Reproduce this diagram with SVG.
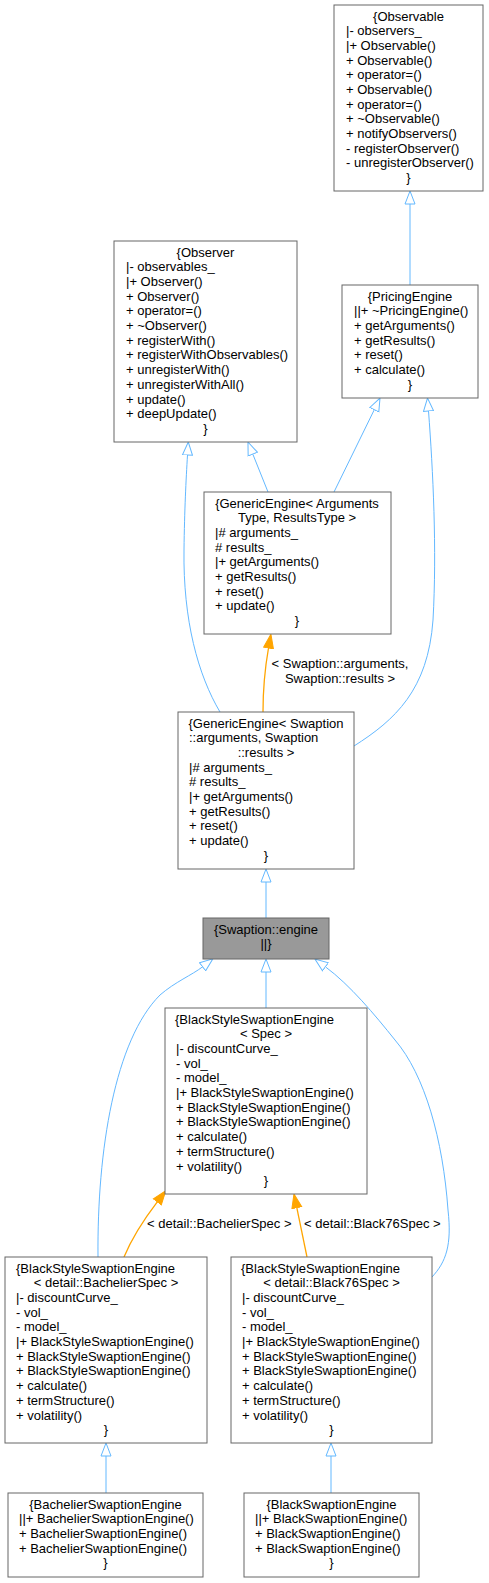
<svg xmlns="http://www.w3.org/2000/svg" width="489" height="1583" viewBox="0 0 489 1583">
<style>
text{font-family:"Liberation Sans",Arial,sans-serif;font-size:13px;fill:#000}
.c{text-anchor:middle}
.box{fill:#fff;stroke:#666;stroke-width:1}
.sel{fill:#999;stroke:#666;stroke-width:1}
.e{fill:none;stroke:#63B8FF;stroke-width:1}
.o{fill:none;stroke:#FFA500;stroke-width:1.3}
</style>
<defs>
<marker id="ah" viewBox="0 0 14 12" markerWidth="14" markerHeight="12" refX="0.5" refY="6" orient="auto" markerUnits="userSpaceOnUse"><path d="M0.5,1 L13.5,6 L0.5,11 z" fill="#fff" stroke="#63B8FF" stroke-width="1"/></marker>
<marker id="ao" viewBox="0 0 15 12" markerWidth="15" markerHeight="12" refX="0.5" refY="6" orient="auto" markerUnits="userSpaceOnUse"><path d="M0.5,1 L14.5,6 L0.5,11 z" fill="#FFA500" stroke="#FFA500" stroke-width="1"/></marker>
</defs>

<g id="connectors">
<path class="e" d="M410,285 L410,204" marker-end="url(#ah)"/>
<path class="e" d="M268,492 L252.8,454.1" marker-end="url(#ah)"/>
<path class="e" d="M334,492 L374.3,409.7" marker-end="url(#ah)"/>
<path class="e" d="M220,712 C198,675 183,620 184,550 C184.5,510 186,480 187.5,455" marker-end="url(#ah)"/>
<path class="e" d="M354,746 C395,720 428,690 433,620 C437,550 433,470 428.5,411" marker-end="url(#ah)"/>
<path class="o" d="M263,712 C263,690 265,668 268.5,648" marker-end="url(#ao)"/>
<path class="e" d="M266,918 L266,882" marker-end="url(#ah)"/>
<path class="e" d="M266,1008 L266,972" marker-end="url(#ah)"/>
<path class="e" d="M98,1257 C97,1150 115,1040 160,995 C175,982 192,975 202.6,966.8" marker-end="url(#ah)"/>
<path class="e" d="M432,1277 C446,1262 452,1245 448,1210 C443,1140 425,1075 395,1040 C375,1015 350,985 325.4,966.8" marker-end="url(#ah)"/>
<path class="o" d="M124,1257 C132,1238 145,1218 157.3,1201.9" marker-end="url(#ao)"/>
<path class="o" d="M307,1257 L296.8,1207.7" marker-end="url(#ao)"/>
<path class="e" d="M106,1493 L106,1456" marker-end="url(#ah)"/>
<path class="e" d="M331,1493 L331,1456" marker-end="url(#ah)"/>
<text class="c" x="340" y="668">&lt; Swaption::arguments,</text>
<text class="c" x="340" y="683">Swaption::results &gt;</text>
<text x="147" y="1228">&lt; detail::BachelierSpec &gt;</text>
<text x="304" y="1228">&lt; detail::Black76Spec &gt;</text>
</g>

<g id="Observable">
<rect class="box" x="334" y="5" width="149" height="186"/>
<text class="c" x="408.5" y="20.5">{Observable</text>
<text x="346" y="35.2">|- observers_<tspan x="346" dy="14.7">|+ Observable()</tspan><tspan x="346" dy="14.7">+ Observable()</tspan><tspan x="346" dy="14.7">+ operator=()</tspan><tspan x="346" dy="14.7">+ Observable()</tspan><tspan x="346" dy="14.7">+ operator=()</tspan><tspan x="346" dy="14.7">+ ~Observable()</tspan><tspan x="346" dy="14.7">+ notifyObservers()</tspan><tspan x="346" dy="14.7">- registerObserver()</tspan><tspan x="346" dy="14.7">- unregisterObserver()</tspan></text>
<text class="c" x="408.5" y="182.2">}</text>
</g>

<g id="Observer">
<rect class="box" x="114" y="241" width="183" height="201"/>
<text class="c" x="205.5" y="256.5">{Observer</text>
<text x="126" y="271.2">|- observables_<tspan x="126" dy="14.7">|+ Observer()</tspan><tspan x="126" dy="14.7">+ Observer()</tspan><tspan x="126" dy="14.7">+ operator=()</tspan><tspan x="126" dy="14.7">+ ~Observer()</tspan><tspan x="126" dy="14.7">+ registerWith()</tspan><tspan x="126" dy="14.7">+ registerWithObservables()</tspan><tspan x="126" dy="14.7">+ unregisterWith()</tspan><tspan x="126" dy="14.7">+ unregisterWithAll()</tspan><tspan x="126" dy="14.7">+ update()</tspan><tspan x="126" dy="14.7">+ deepUpdate()</tspan></text>
<text class="c" x="205.5" y="432.9">}</text>
</g>

<g id="PricingEngine">
<rect class="box" x="342" y="285" width="136" height="113"/>
<text class="c" x="410" y="300.5">{PricingEngine</text>
<text x="354" y="315.2">||+ ~PricingEngine()<tspan x="354" dy="14.7">+ getArguments()</tspan><tspan x="354" dy="14.7">+ getResults()</tspan><tspan x="354" dy="14.7">+ reset()</tspan><tspan x="354" dy="14.7">+ calculate()</tspan></text>
<text class="c" x="410" y="388.7">}</text>
</g>

<g id="GenericEngineArgs">
<rect class="box" x="204" y="492" width="187" height="142"/>
<text class="c" x="297" y="507.5">{GenericEngine&lt; Arguments</text>
<text class="c" x="297" y="522.2">Type, ResultsType &gt;</text>
<text x="215" y="536.9">|# arguments_<tspan x="215" dy="14.7"># results_</tspan><tspan x="215" dy="14.7">|+ getArguments()</tspan><tspan x="215" dy="14.7">+ getResults()</tspan><tspan x="215" dy="14.7">+ reset()</tspan><tspan x="215" dy="14.7">+ update()</tspan></text>
<text class="c" x="297" y="625.1">}</text>
</g>

<g id="GenericEngineSwaption">
<rect class="box" x="178" y="712" width="176" height="157"/>
<text class="c" x="266" y="727.5">{GenericEngine&lt; Swaption</text>
<text x="189" y="742.2">::arguments, Swaption</text>
<text class="c" x="266" y="756.9">::results &gt;</text>
<text x="189" y="771.6">|# arguments_<tspan x="189" dy="14.7"># results_</tspan><tspan x="189" dy="14.7">|+ getArguments()</tspan><tspan x="189" dy="14.7">+ getResults()</tspan><tspan x="189" dy="14.7">+ reset()</tspan><tspan x="189" dy="14.7">+ update()</tspan></text>
<text class="c" x="266" y="859.8">}</text>
</g>

<g id="SwaptionEngine">
<rect class="sel" x="203" y="918" width="126" height="41"/>
<text class="c" x="266" y="933.5">{Swaption::engine</text>
<text class="c" x="266" y="948.2">||}</text>
</g>

<g id="BlackStyleSpec">
<rect class="box" x="165" y="1008" width="202" height="186"/>
<text x="175" y="1023.5">{BlackStyleSwaptionEngine</text>
<text class="c" x="266" y="1038.2">&lt; Spec &gt;</text>
<text x="176" y="1052.9">|- discountCurve_<tspan x="176" dy="14.7">- vol_</tspan><tspan x="176" dy="14.7">- model_</tspan><tspan x="176" dy="14.7">|+ BlackStyleSwaptionEngine()</tspan><tspan x="176" dy="14.7">+ BlackStyleSwaptionEngine()</tspan><tspan x="176" dy="14.7">+ BlackStyleSwaptionEngine()</tspan><tspan x="176" dy="14.7">+ calculate()</tspan><tspan x="176" dy="14.7">+ termStructure()</tspan><tspan x="176" dy="14.7">+ volatility()</tspan></text>
<text class="c" x="266" y="1185.2">}</text>
</g>

<g id="BlackStyleBachelier">
<rect class="box" x="5" y="1257" width="202" height="186"/>
<text x="16" y="1272.5">{BlackStyleSwaptionEngine</text>
<text class="c" x="106" y="1287.2">&lt; detail::BachelierSpec &gt;</text>
<text x="16" y="1301.9">|- discountCurve_<tspan x="16" dy="14.7">- vol_</tspan><tspan x="16" dy="14.7">- model_</tspan><tspan x="16" dy="14.7">|+ BlackStyleSwaptionEngine()</tspan><tspan x="16" dy="14.7">+ BlackStyleSwaptionEngine()</tspan><tspan x="16" dy="14.7">+ BlackStyleSwaptionEngine()</tspan><tspan x="16" dy="14.7">+ calculate()</tspan><tspan x="16" dy="14.7">+ termStructure()</tspan><tspan x="16" dy="14.7">+ volatility()</tspan></text>
<text class="c" x="106" y="1434.2">}</text>
</g>

<g id="BlackStyleBlack76">
<rect class="box" x="231" y="1257" width="201" height="186"/>
<text x="241" y="1272.5">{BlackStyleSwaptionEngine</text>
<text class="c" x="331.5" y="1287.2">&lt; detail::Black76Spec &gt;</text>
<text x="242" y="1301.9">|- discountCurve_<tspan x="242" dy="14.7">- vol_</tspan><tspan x="242" dy="14.7">- model_</tspan><tspan x="242" dy="14.7">|+ BlackStyleSwaptionEngine()</tspan><tspan x="242" dy="14.7">+ BlackStyleSwaptionEngine()</tspan><tspan x="242" dy="14.7">+ BlackStyleSwaptionEngine()</tspan><tspan x="242" dy="14.7">+ calculate()</tspan><tspan x="242" dy="14.7">+ termStructure()</tspan><tspan x="242" dy="14.7">+ volatility()</tspan></text>
<text class="c" x="331.5" y="1434.2">}</text>
</g>

<g id="BachelierSwaptionEngine">
<rect class="box" x="8" y="1493" width="195" height="84"/>
<text class="c" x="105.5" y="1508.5">{BachelierSwaptionEngine</text>
<text x="19" y="1523.2">||+ BachelierSwaptionEngine()<tspan x="19" dy="14.7">+ BachelierSwaptionEngine()</tspan><tspan x="19" dy="14.7">+ BachelierSwaptionEngine()</tspan></text>
<text class="c" x="105.5" y="1567.3">}</text>
</g>

<g id="BlackSwaptionEngine">
<rect class="box" x="244" y="1493" width="175" height="84"/>
<text class="c" x="331.5" y="1508.5">{BlackSwaptionEngine</text>
<text x="255" y="1523.2">||+ BlackSwaptionEngine()<tspan x="255" dy="14.7">+ BlackSwaptionEngine()</tspan><tspan x="255" dy="14.7">+ BlackSwaptionEngine()</tspan></text>
<text class="c" x="331.5" y="1567.3">}</text>
</g>
</svg>
